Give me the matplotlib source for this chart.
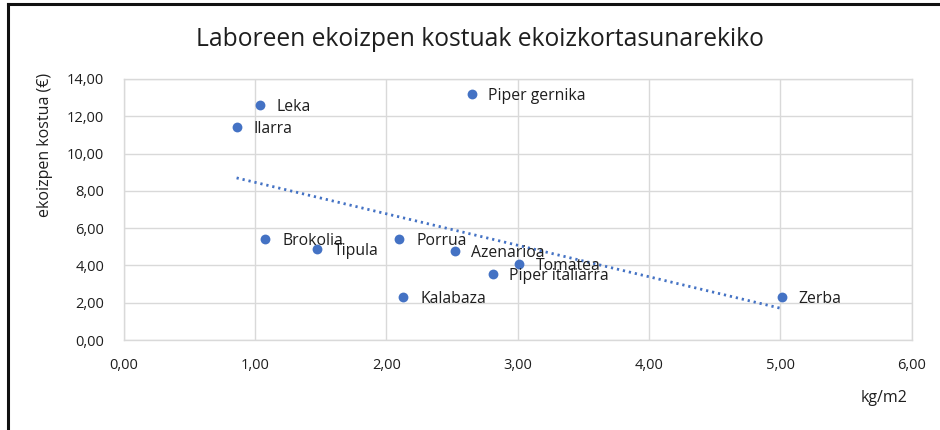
import numpy as np
import matplotlib
matplotlib.use('Agg')
import matplotlib.pyplot as plt
from matplotlib.lines import Line2D
from matplotlib.ticker import FuncFormatter, MultipleLocator

plt.rcParams['font.family'] = ['Open Sans', 'DejaVu Sans']

labels = ['Leka', 'Ilarra', 'Piper gernika', 'Brokolia', 'Tipula', 'Porrua',
          'Azenarioa', 'Tomatea', 'Piper italiarra', 'Kalabaza', 'Zerba']
yield_kg_m2 = [1.04, 0.86, 2.65, 1.08, 1.47, 2.10, 2.52, 3.01, 2.81, 2.13, 5.01]
cost_eur = [12.60, 11.44, 13.20, 5.42, 4.88, 5.42, 4.77, 4.06, 3.54, 2.29, 2.32]

BLUE = '#4472C4'
GRID = '#d9d9d9'
TXT = '#1e1e1e'

fig = plt.figure(figsize=(9.4, 4.3), dpi=100)
ax = fig.add_axes([0.1315, 0.2093, 0.8385, 0.607])

x = np.array(yield_kg_m2)
y = np.array(cost_eur)
ax.scatter(x, y, s=50, color=BLUE, zorder=3, linewidths=0)

# linear trendline over the data range
k, b = np.polyfit(x, y, 1)
xt = np.array([x.min(), x.max()])
ax.plot(xt, k * xt + b, color=BLUE, lw=2, linestyle=(0, (0.8, 1.4)), zorder=2)

for name, xi, yi in zip(labels, x, y):
    ax.annotate(name, (xi, yi), xytext=(12, -1.5), textcoords='offset points',
                ha='left', va='center', fontsize=11.3, color=TXT, zorder=4)

ax.set_xlim(0, 6)
ax.set_ylim(0, 14)
ax.xaxis.set_major_locator(MultipleLocator(1))
ax.yaxis.set_major_locator(MultipleLocator(2))
fmt = FuncFormatter(lambda v, p: f'{v:.2f}'.replace('.', ','))
ax.xaxis.set_major_formatter(fmt)
ax.yaxis.set_major_formatter(fmt)
ax.tick_params(length=0, labelsize=10.5, labelcolor=TXT)
for lab in ax.get_xticklabels() + ax.get_yticklabels():
    lab.set_fontweight('medium')
ax.tick_params(axis='x', pad=13)
ax.tick_params(axis='y', pad=14)
ax.grid(True, color=GRID, lw=1)
ax.set_axisbelow(True)
for s in ax.spines.values():
    s.set_color(GRID)
    s.set_linewidth(1)

fig.text(0.511, 0.907, 'Laboreen ekoizpen kostuak ekoizkortasunarekiko',
         ha='center', va='center', fontsize=17.7, color=TXT)
fig.text(0.048, 0.663, 'ekoizpen kostua (€)', rotation=90,
         ha='center', va='center', fontsize=11.5, color=TXT)
fig.text(0.94, 0.074, 'kg/m2', ha='center', va='center', fontsize=11.5, color=TXT)

# outer frame (top and left edges)
fig.add_artist(Line2D([0.0085, 1.0], [0.990, 0.990], color='#111111', lw=2.2))
fig.add_artist(Line2D([0.0085, 0.0085], [0.0, 0.990], color='#111111', lw=2.2))

fig.savefig('out.png', dpi=100)
